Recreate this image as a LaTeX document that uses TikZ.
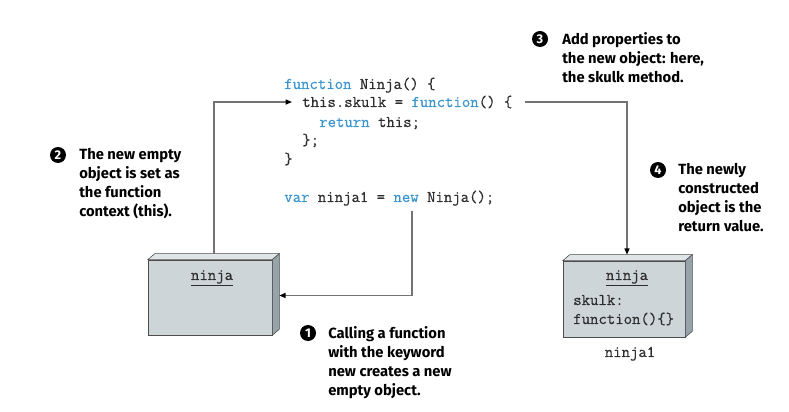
\documentclass[tikz,border=0pt]{standalone}
\usepackage{fontspec}
\setmainfont{Fira Sans}
\newfontfamily\monofam[FakeBold=0.6]{Latin Modern Mono}
\usepackage{xcolor}
\usepackage{tikz}
\usetikzlibrary{arrows.meta,positioning,calc}

\definecolor{keyword}{RGB}{58,148,205}
\definecolor{codetext}{RGB}{45,45,45}
\definecolor{boxfront}{RGB}{205,213,217}
\definecolor{boxside}{RGB}{150,164,170}
\definecolor{boxtop}{RGB}{224,229,231}
\definecolor{linkgray}{RGB}{115,115,115}

\newcommand\codefont{\monofam\fontsize{11.6}{13.5}\selectfont}
\newcommand\kw[1]{\textcolor{keyword}{#1}}
% top and side faces of an object box
\newcommand\boxfaces[1]{%
  \filldraw[fill=boxtop, draw=black!70, line width=0.4pt] (#1.north west) -- ++(7,-6) -- ($(#1.north east)+(7,-6)$) -- (#1.north east) -- cycle;
  \filldraw[fill=boxside, draw=black!70, line width=0.4pt] (#1.north east) -- ++(7,-6) -- ($(#1.south east)+(7,-6)$) -- (#1.south east) -- cycle;
}

\tikzset{
  code/.style={anchor=base west, inner sep=0pt, font=\codefont, text=codetext},
  objbox/.style={draw=black!70, fill=boxfront, line width=0.4pt, inner sep=0pt},
  link/.style={draw=linkgray, line width=0.9pt},
  arrowlink/.style={link, -{Triangle[length=4.5pt,width=3.6pt,color=black]}},
  badge/.style={circle, fill=black, text=white, inner sep=0pt, minimum size=0.4cm, font=\bfseries\fontsize{9}{9}\selectfont},
  note/.style={anchor=north west, align=left, inner sep=0pt, font=\bfseries\fontsize{10.5}{13.5}\selectfont}
}

\begin{document}
\begin{tikzpicture}[x=0.025cm, y=-0.025cm]
  \useasboundingbox (0,0) rectangle (789,412);

  % the code
  \node[code] (fn) at (284,89) {\kw{function} Ninja() \{};
  \node[code] (skulk) at (302,107) {this.skulk = \kw{function}() \{};
  \node[code] (ret) at (319,127) {\kw{return} this;};
  \node[code] (inner) at (302,145) {\};};
  \node[code] (outer) at (284,164) {\}};
  \node[code] (call) at (284,202) {\kw{var} ninja1 = \kw{new} Ninja();};
  \coordinate (newcall) at (412,211);

  % the empty object
  \node[objbox, minimum width=3.1cm, minimum height=1.875cm] (empty) at (210,297.5) {};
  \boxfaces{empty}
  \node[code, anchor=base] (emptyname) at (212,280) {\underline{ninja}};

  % the constructed object
  \node[objbox, minimum width=3.05cm, minimum height=1.9cm] (obj) at (624,299) {};
  \boxfaces{obj}
  \node[code, anchor=base] (objname) at (627,280) {\underline{ninja}};
  \node[code] (objprop) at (573,305) {skulk:};
  \node[code] (objfun) at (573,324) {function()\{\}};
  \node[code, anchor=base] (objlabel) at (630,357) {ninja1};

  % connectors
  \draw[arrowlink] ($(empty.north)+(4,-6)$) |- ($(skulk.west)+(-10,0)$);
  \draw[arrowlink] (newcall) |- ($(empty.east)+(7,-2)$);
  \draw[arrowlink] ($(skulk.east)+(12,0)$) -| ($(obj.north)+(3,-6)$);

  % notes
  \node[badge] (b1) at (308,333) {1};
  \node[note] (n1) at (328,326) {Calling a function\\with the keyword\\new creates a new\\empty object.};
  \node[badge] (b2) at (58,155) {2};
  \node[note] (n2) at (79,148) {The new empty\\object is set as\\the function\\context (this).};
  \node[badge] (b3) at (540,39) {3};
  \node[note] (n3) at (562,32) {Add properties to\\the new object: here,\\the skulk method.};
  \node[badge] (b4) at (658,170) {4};
  \node[note] (n4) at (678,163) {The newly\\constructed\\object is the\\return value.};
\end{tikzpicture}
\end{document}
